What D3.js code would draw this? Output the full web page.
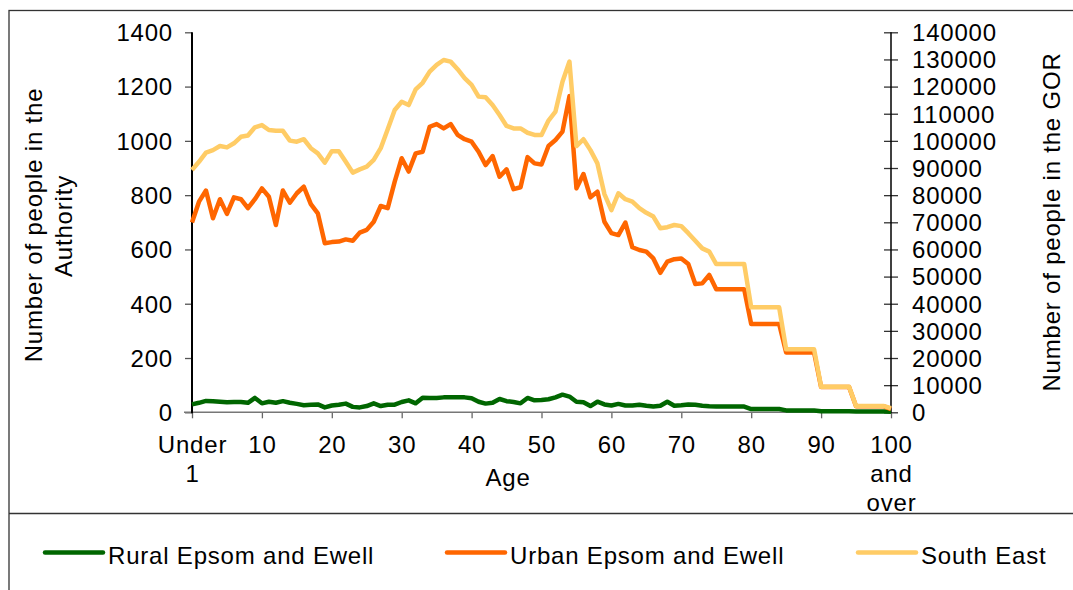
<!DOCTYPE html>
<html>
<head>
<meta charset="utf-8">
<script src="https://cdn.jsdelivr.net/npm/d3@7"></script>
<style>
  html, body { margin: 0; padding: 0; background: #fff; }
  svg { display: block; }
  text { font-family: "Liberation Sans", Arial, sans-serif; font-size: 24px; letter-spacing: 0.8px; fill: #000; }
</style>
</head>
<body>
<svg id="chart" width="1073" height="590"></svg>
<script>
// ---- Data ----
const categories = ["Under 1"].concat(d3.range(1, 100).map(String)).concat(["100 and over"]);
const tickCategories = ["Under 1","10","20","30","40","50","60","70","80","90","100 and over"];
const leftTicks = [0,200,400,600,800,1000,1200,1400];
const rightTicks = [0,10000,20000,30000,40000,50000,60000,70000,80000,90000,100000,110000,120000,130000,140000];

const rural = [29,35,42,41,39,37,38,38,35,53,33,39,35,41,35,31,26,28,29,18,
  25,28,32,20,18,23,33,23,28,28,38,44,33,54,53,53,55,55,55,55,
  52,39,32,35,49,41,38,33,53,44,45,48,55,65,58,39,37,23,39,29,
  25,31,25,25,28,24,21,24,39,24,26,29,28,24,22,21,21,21,21,21,
  12,12,12,12,12,7,7,7,7,7,4,4,4,4,4,3,3,3,3,3,2];

const urban = [699,776,817,715,785,731,792,785,752,785,825,794,690,817,772,807,831,767,733,623,
  627,629,637,632,662,672,702,760,752,850,936,887,954,960,1052,1062,1046,1062,1022,1006,
  997,960,911,944,868,895,822,829,940,917,913,981,1003,1034,1165,825,878,792,813,702,
  660,653,699,608,598,592,567,514,555,564,567,546,473,475,506,453,453,453,453,453,
  325,325,325,325,325,220,220,220,220,220,93,93,93,93,93,22,22,22,22,22,12];

const southEast = [89300,92300,95700,96600,98100,97600,99100,101500,102000,105000,105800,104000,103700,103700,100100,99700,100600,97300,95400,92000,
  96200,96200,92300,88300,89500,90500,93000,97300,104300,111400,114400,113200,119000,121400,125500,128000,129800,129200,126400,123100,
  120600,116300,116100,113200,109500,105500,104600,104600,103000,102200,102200,107500,110800,121800,129200,98100,100600,96600,91700,80400,
  74500,80700,78500,77600,75200,73500,72100,67800,68200,69000,68600,66000,63200,60400,59200,54600,54600,54600,54600,54600,
  38700,38700,38700,38700,38700,23200,23200,23200,23200,23200,9400,9400,9400,9400,9400,2300,2300,2300,2300,2300,1500];

const seriesNames = ["Rural Epsom and Ewell","Urban Epsom and Ewell","South East"];
const seriesColors = ["#006600","#FF6600","#FFCC66"];

// ---- Layout ----
const svg = d3.select("#chart");
const X0 = 192, X1 = 891, Y0 = 412.3, Y1 = 32.3;

const x = d3.scalePoint().domain(categories).range([X0, X1]);
const yL = d3.scaleLinear().domain([0, 1400]).range([Y0, Y1]);
const yR = d3.scaleLinear().domain([0, 140000]).range([Y0, Y1]);

// frame
svg.append("rect").attr("x", 9).attr("y", 10.5).attr("width", 1080).attr("height", 600)
  .attr("fill", "#fff").attr("stroke", "#333").attr("stroke-width", 1.3);
svg.append("line").attr("x1", 9).attr("x2", 1073).attr("y1", 513.5).attr("y2", 513.5)
  .attr("stroke", "#333").attr("stroke-width", 1.3);

// left axis
const gL = svg.append("g").attr("transform", `translate(${X0},0)`)
  .call(d3.axisLeft(yL).tickValues(leftTicks).tickSize(7).tickPadding(12).tickFormat(d3.format("d")));
gL.select(".domain").remove();
gL.selectAll(".tick line").attr("stroke", "#555").attr("stroke-width", 1.3);
gL.selectAll(".tick text").attr("dy", "0.35em").style("font-size", "24px").attr("font-family", null);

// right axis
const gR = svg.append("g").attr("transform", `translate(${X1},0)`)
  .call(d3.axisRight(yR).tickValues(rightTicks).tickSize(7).tickPadding(14).tickFormat(d3.format("d")));
gR.select(".domain").remove();
gR.selectAll(".tick line").attr("x1", -7).attr("stroke", "#333").attr("stroke-width", 1.3);
gR.selectAll(".tick text").attr("dy", "0.35em").attr("font-family", null);

// x axis
const gX = svg.append("g").attr("transform", `translate(0,${Y0})`)
  .call(d3.axisBottom(x).tickValues(tickCategories).tickSize(6).tickFormat(""));
gX.select(".domain").remove();
gX.selectAll(".tick line").attr("stroke", "#666").attr("stroke-width", 1.3);
gX.selectAll(".tick").each(function(d) {
  const parts = d === "Under 1" ? ["Under", "1"] : d === "100 and over" ? ["100", "and", "over"] : [d];
  const t = d3.select(this).append("text").attr("text-anchor", "middle").attr("y", 40.7);
  parts.forEach((p, i) => t.append("tspan").attr("x", 0).attr("dy", i === 0 ? 0 : 29).text(p));
});

// axis lines
svg.append("line").attr("x1", 184).attr("x2", X1).attr("y1", Y0).attr("y2", Y0).attr("stroke", "#777").attr("stroke-width", 1.5);
svg.append("line").attr("x1", X0).attr("x2", X0).attr("y1", Y1).attr("y2", Y0 + 1).attr("stroke", "#000").attr("stroke-width", 2);
svg.append("line").attr("x1", X1).attr("x2", X1).attr("y1", Y1).attr("y2", Y0 + 1).attr("stroke", "#000").attr("stroke-width", 1.5);

// lines
const lineL = d3.line().x((d, i) => x(categories[i])).y(d => yL(d));
const lineR = d3.line().x((d, i) => x(categories[i])).y(d => yR(d));
svg.append("path").datum(rural).attr("d", lineL).attr("fill", "none").attr("stroke", seriesColors[0]).attr("stroke-width", 4.5).attr("stroke-linejoin", "round");
svg.append("path").datum(urban).attr("d", lineL).attr("fill", "none").attr("stroke", seriesColors[1]).attr("stroke-width", 4.5).attr("stroke-linejoin", "round");
svg.append("path").datum(southEast).attr("d", lineR).attr("fill", "none").attr("stroke", seriesColors[2]).attr("stroke-width", 4.5).attr("stroke-linejoin", "round");

// axis titles
svg.append("text").attr("transform", "translate(42,225) rotate(-90)").attr("text-anchor", "middle").text("Number of people in the");
svg.append("text").attr("transform", "translate(72,226) rotate(-90)").attr("text-anchor", "middle").text("Authority");
svg.append("text").attr("transform", "translate(1060,222) rotate(-90)").attr("text-anchor", "middle").text("Number of people in the GOR");
svg.append("text").attr("x", 508).attr("y", 486).attr("text-anchor", "middle").text("Age");

// legend
const legendX = [45, 447, 858];
seriesNames.forEach((name, i) => {
  svg.append("line").attr("x1", legendX[i]).attr("x2", legendX[i] + 58).attr("y1", 552.5).attr("y2", 552.5)
    .attr("stroke", seriesColors[i]).attr("stroke-width", 4.5).attr("stroke-linecap", "round");
  svg.append("text").attr("x", legendX[i] + 63).attr("y", 564).text(name);
});
</script>
</body>
</html>
